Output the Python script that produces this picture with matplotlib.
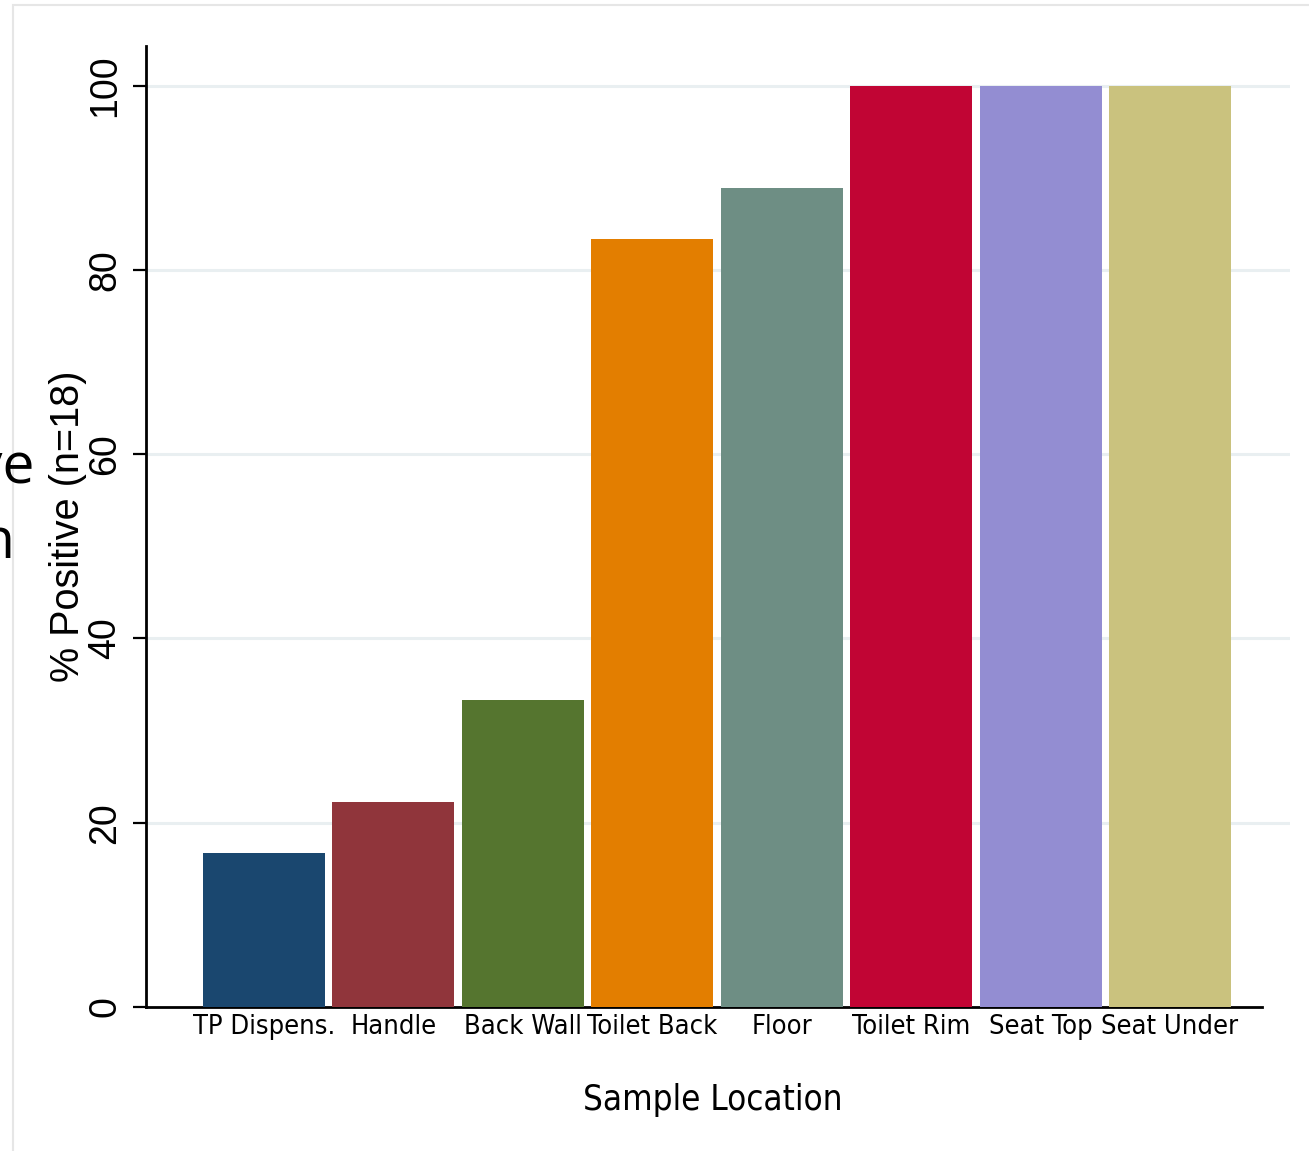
import matplotlib
matplotlib.use("Agg")
import matplotlib.pyplot as plt
import numpy as np
from matplotlib.patches import Rectangle

# Sample locations and % positive (n=18)
locations = ["TP Dispens.", "Handle", "Back Wall", "Toilet Back",
             "Floor", "Toilet Rim", "Seat Top", "Seat Under"]
pct_positive = [16.7, 22.2, 33.3, 83.3, 88.9, 100, 100, 100]
y_ticks = [0, 20, 40, 60, 80, 100]

# Stata s2color palette
colors = ["#1a476f", "#90353b", "#55752f", "#e37e00",
          "#6e8e84", "#c10534", "#938dd2", "#cac27e"]

W, H = 1309, 1151
fig = plt.figure(figsize=(W / 100, H / 100), dpi=100)

# light frame of the slide graphic
fig.patches.append(Rectangle((13 / W, -0.01), 1.2, 1 - 5 / H + 0.01,
                             transform=fig.transFigure, fill=False,
                             edgecolor="#e6e6e6", linewidth=1.5))

ax = fig.add_axes([146 / W, 1 - 1007 / H, (1290 - 146) / W, (1007 - 46) / H])

x = np.arange(len(locations))
ax.bar(x, pct_positive, width=0.943, color=colors, zorder=3)

ax.set_xlim(-0.912, 7.927)
ax.set_ylim(0, 104.3)

# grid
ax.set_yticks(y_ticks)
for v in y_ticks[1:]:
    ax.axhline(v, color="#e9eff1", linewidth=2.2, zorder=1)

for s in ["top", "right"]:
    ax.spines[s].set_visible(False)
ax.spines["left"].set_linewidth(2.0)
ax.spines["bottom"].set_linewidth(2.0)
ax.spines["bottom"].set_bounds(-0.912, 7.71)

ax.set_yticklabels([str(v) for v in y_ticks], rotation=90, va="center",
                   fontsize=27, family="Liberation Sans")
ax.tick_params(axis="y", length=9.5, width=1.6, pad=7)

ax.set_xticks(x)
ax.set_xticklabels(locations, fontsize=19.5, family="DejaVu Sans",
                   fontstretch="condensed")
ax.tick_params(axis="x", length=0, pad=5)

ax.set_ylabel("% Positive (n=18)", fontsize=28.5, family="Liberation Sans")
ax.yaxis.label.set_va("center")
ax.yaxis.set_label_coords(-0.0682, 0.5)
ax.set_xlabel("Sample Location", fontsize=25, family="DejaVu Sans",
              fontstretch="condensed")
ax.xaxis.label.set_va("center")
ax.xaxis.set_label_coords(0.4956, -0.0968)

# cut-off slide text at left edge
fig.text(34 / W, 1 - 483 / H, "ve", fontsize=41, family="Open Sans",
         ha="right", va="baseline")
fig.text(14 / W, 1 - 558 / H, "n", fontsize=41, family="Open Sans",
         ha="right", va="baseline")

fig.savefig("out.png", dpi=100)
